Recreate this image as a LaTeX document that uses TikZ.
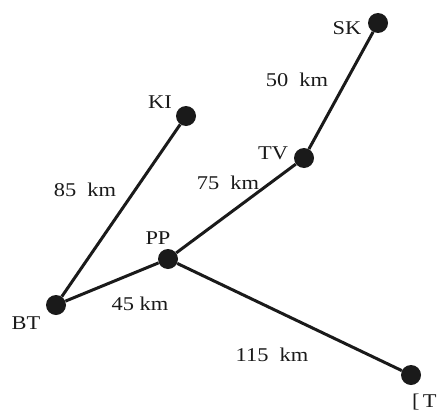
\documentclass[tikz,border=0pt]{standalone}
\usepackage{fontspec}
\setmainfont{Liberation Serif}[FakeStretch=1.15]
\usetikzlibrary{positioning}
\definecolor{ink}{HTML}{1A1A1A}
\tikzset{
    town/.style={circle, fill=ink, draw=none, minimum size=20pt, inner sep=0pt},
    road/.style={ink, line width=3pt},
    town name/.style={font=\fontsize{19.5}{22}\selectfont, text=ink, inner sep=0pt},
    road length/.style={font=\fontsize{19.5}{22}\selectfont, text=ink, inner sep=0pt},
}

\begin{document}
\begin{tikzpicture}[x=1pt,y=-1pt]

% Frame of the picture.
\useasboundingbox (0,0) rectangle (438,412);

% Towns.
\node[town] (SK) at (378,23) {};
\node[town] (KI) at (186,116) {};
\node[town] (TV) at (304,158) {};
\node[town] (PP) at (168,259) {};
\node[town] (BT) at (56,305) {};
\node[town] (LT) at (411,375) {};

% Roads between the towns.
\draw[road] (BT) -- (KI);
\draw[road] (BT) -- (PP);
\draw[road] (PP) -- (TV);
\draw[road] (TV) -- (SK);
\draw[road] (PP) -- (LT);

% Town names.
\node[town name] at (347,28) {SK};
\node[town name] at (160,102) {KI};
\node[town name] at (273,153) {TV};
\node[town name] at (158,238) {PP};
\node[town name] at (26,323) {BT};
\node[town name, anchor=base west] at (412,407) {[\,T};

% Distances.
\node[road length] at (297,80) {50\ \ km};
\node[road length] at (85,190) {85\ \ km};
\node[road length] at (228,183) {75\ \ km};
\node[road length] at (140,304) {45 km};
\node[road length] at (272,355) {115\ \ km};

\end{tikzpicture}
\end{document}
